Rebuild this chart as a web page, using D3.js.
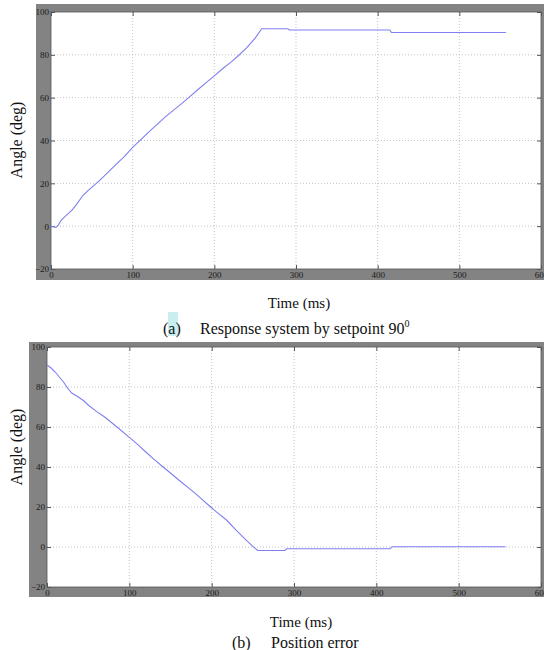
<!DOCTYPE html>
<html>
<head>
<meta charset="utf-8">
<script src="https://cdn.jsdelivr.net/npm/d3@7"></script>
<style>
  body { margin: 0; background: #fff; }
  svg { display: block; }
</style>
</head>
<body>
<div id="chart"></div>
<script>
'use strict';

// panel (a): response to a 90 degree setpoint
var respTime = [0, 3, 6, 9, 12, 15, 20, 26, 32, 39, 45, 52, 60, 70, 80, 90, 100,
  110, 120, 130, 140, 150, 160, 170, 180, 190, 200, 210, 220, 230, 240, 250,
  258, 290, 292, 415, 417, 557];
var respAngle = [0, -0.3, -0.6, 0.5, 2.5, 3.8, 5.5, 7.6, 10.5, 14.3, 16.5, 18.8,
  21.5, 25.2, 29, 32.6, 36.8, 40.4, 44, 47.5, 51, 54.2, 57.2, 60.5, 63.8, 67,
  70.2, 73.5, 76.5, 79.8, 83.5, 87.8, 92.2, 92.2, 91.6, 91.6, 90.4, 90.4];

// panel (b): position error
var errTime = [0, 5, 10, 15, 20, 25, 30, 38, 45, 50, 60, 70, 85, 100, 110, 120,
  130, 141, 150, 160, 170, 180, 190, 196, 205, 218, 230, 240, 250, 256, 289,
  291, 417, 419, 557];
var errAngle = [91, 89.5, 87.5, 85, 82.5, 79.5, 77, 75, 73, 71, 67.8, 65, 60,
  54.8, 51.3, 47.5, 43.8, 40, 37, 33.5, 30.2, 26.8, 23.2, 21, 17.8, 13.5, 8.3,
  4.2, 0.3, -1.75, -1.75, -0.9, -0.9, 0.15, 0.15];

var xTicks = [0, 100, 200, 300, 400, 500, 600];
var yTicks = [-20, 0, 20, 40, 60, 80, 100];

var svg = d3.select('#chart')
  .append('svg')
    .attr('width', 544)
    .attr('height', 650);

function drawPanel(o) {
  var times = o.times, values = o.values;

  // each figure gets its own gray svg viewport
  var fx = o.frame[0], fy = o.frame[1];
  var fig = svg.append('svg')
    .attr('x', fx).attr('y', fy)
    .attr('width', o.frame[2]).attr('height', o.frame[3])
    .attr('overflow', 'visible')
    .style('background-color', '#838383');

  fig.append('rect')
    .attr('width', o.frame[2]).attr('height', o.frame[3])
    .attr('fill', '#838383');

  var left = o.left - fx, right = o.right - fx,
      top = o.top - fy, bottom = o.bottom - fy;

  var x = d3.scaleLinear().domain([0, 600]).range([left, right]);
  var y = d3.scaleLinear().domain([-20, 100]).range([bottom, top]);

  fig.append('rect')
    .attr('x', left).attr('y', top)
    .attr('width', right - left).attr('height', bottom - top)
    .attr('fill', '#fff');

  // dotted grid
  fig.append('g')
    .selectAll('line')
    .data(xTicks.slice(1, -1))
    .enter().append('line')
      .attr('x1', function(d) { return x(d); })
      .attr('x2', function(d) { return x(d); })
      .attr('y1', top).attr('y2', bottom)
      .attr('stroke', '#c4c4c4')
      .attr('stroke-dasharray', '1,2');

  fig.append('g')
    .selectAll('line')
    .data(yTicks.slice(1, -1))
    .enter().append('line')
      .attr('y1', function(d) { return y(d); })
      .attr('y2', function(d) { return y(d); })
      .attr('x1', left).attr('x2', right)
      .attr('stroke', '#c4c4c4')
      .attr('stroke-dasharray', '1,2');

  // inner tick marks on all sides
  var tickLen = 4;
  var marks = fig.append('g');
  marks.append('g').call(d3.axisBottom(x).tickValues(xTicks).tickSize(tickLen).tickFormat(''))
    .attr('transform', 'translate(0,' + top + ')');
  marks.append('g').call(d3.axisTop(x).tickValues(xTicks).tickSize(tickLen).tickFormat(''))
    .attr('transform', 'translate(0,' + bottom + ')');
  marks.append('g').call(d3.axisRight(y).tickValues(yTicks).tickSize(tickLen).tickFormat(''))
    .attr('transform', 'translate(' + left + ',0)');
  marks.append('g').call(d3.axisLeft(y).tickValues(yTicks).tickSize(tickLen).tickFormat(''))
    .attr('transform', 'translate(' + right + ',0)');
  marks.selectAll('.domain').remove();
  marks.selectAll('.tick line').attr('stroke', '#555');

  fig.append('rect')
    .attr('x', left).attr('y', top)
    .attr('width', right - left).attr('height', bottom - top)
    .attr('fill', 'none')
    .attr('stroke', '#555')
    .attr('stroke-width', 0.8);

  // tick labels sit in the gray border
  var xAxis = fig.append('g')
    .attr('transform', 'translate(0,' + bottom + ')')
    .call(d3.axisBottom(x).tickValues(xTicks).tickSize(0).tickPadding(3));
  var yAxis = fig.append('g')
    .attr('transform', 'translate(' + left + ',0)')
    .call(d3.axisLeft(y).tickValues(yTicks).tickSize(0).tickPadding(2));
  [xAxis, yAxis].forEach(function(a) {
    a.select('.domain').remove();
    a.selectAll('text')
      .attr('font-family', '"Liberation Serif", serif')
      .attr('font-size', '9px')
      .attr('fill', '#1a1a1a');
  });

  var line = d3.line()
    .x(function(d) { return x(d[0]); })
    .y(function(d) { return y(d[1]); });

  fig.append('path')
    .datum(d3.zip(times, values))
    .attr('d', line)
    .attr('fill', 'none')
    .attr('stroke', '#7f7ff2')
    .attr('stroke-width', 1.1);

  // axis titles live outside the gray figure
  svg.append('text')
    .attr('transform', 'translate(' + o.ylabX + ',' + o.ylabY + ') rotate(-90)')
    .attr('text-anchor', 'middle')
    .attr('font-family', '"Liberation Serif", serif')
    .attr('font-size', '16px')
    .attr('fill', '#111')
    .text('Angle (deg)');

  svg.append('text')
    .attr('x', o.xlabX).attr('y', o.xlabY)
    .attr('text-anchor', 'middle')
    .attr('font-family', '"Liberation Serif", serif')
    .attr('font-size', '15px')
    .attr('fill', '#111')
    .text('Time (ms)');
}

drawPanel({
  times: respTime, values: respAngle,
  frame: [36, 4, 508, 276],
  left: 51, right: 541, top: 12, bottom: 269,
  ylabX: 22, ylabY: 140, xlabX: 299, xlabY: 308
});

drawPanel({
  times: errTime, values: errAngle,
  frame: [29, 342, 515, 255],
  left: 47, right: 541, top: 347, bottom: 587,
  ylabX: 22, ylabY: 447, xlabX: 301, xlabY: 627
});

// captions
svg.append('rect')
  .attr('x', 168).attr('y', 312).attr('width', 10).attr('height', 24)
  .attr('fill', '#c9eef0');

var capA = svg.append('text')
  .attr('y', 334)
  .attr('font-family', '"Liberation Serif", serif')
  .attr('font-size', '16px')
  .attr('fill', '#111');
capA.append('tspan').attr('x', 163).text('(a)');
capA.append('tspan').attr('x', 200).text('Response system by setpoint 90');
capA.append('tspan').attr('dy', -7).attr('font-size', '10px').text('0');

var capB = svg.append('text')
  .attr('y', 648)
  .attr('font-family', '"Liberation Serif", serif')
  .attr('font-size', '16px')
  .attr('fill', '#111');
capB.append('tspan').attr('x', 232).text('(b)');
capB.append('tspan').attr('x', 271).text('Position error');
</script>
</body>
</html>
